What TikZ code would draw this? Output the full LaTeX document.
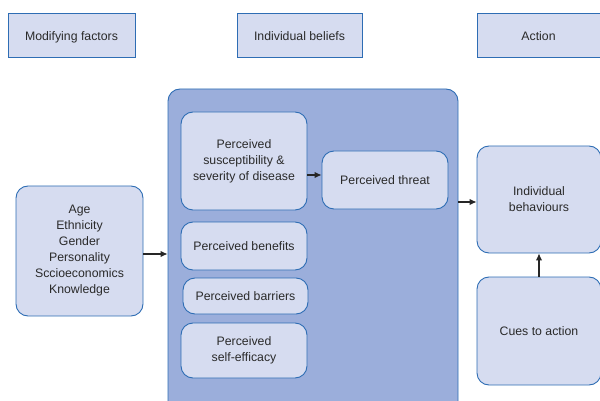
\documentclass[tikz,border=0pt]{standalone}
\usepackage{fontspec}
\setmainfont{Liberation Sans}
\usetikzlibrary{arrows.meta}
\definecolor{lightfill}{HTML}{D6DCF0}
\definecolor{edgeblue}{HTML}{2E6DB4}
\definecolor{contfill}{HTML}{9BAEDB}
\definecolor{txt}{HTML}{2A2A2A}
\tikzset{
  header/.style={draw=edgeblue, fill=lightfill, line width=0.9pt, text=txt, font=\fontsize{12.3}{16}\selectfont, text height=12.4pt, text depth=2pt},
  rbox/.style={draw=edgeblue, fill=lightfill, line width=0.9pt, rounded corners=12pt, text=txt, align=center, font=\fontsize{12.3}{16}\selectfont},
  arr/.style={-{Latex[length=7pt,width=6.5pt]}, line width=1.1pt, draw=black!85}
}
\begin{document}
\begin{tikzpicture}[x=1pt,y=-1pt]
\useasboundingbox (0,0) rectangle (600,401);
% headers
\node[header, minimum width=127pt, minimum height=44pt] (hmod) at (71.5,35.8) {Modifying factors};
\node[header, minimum width=125pt, minimum height=44pt] (hbel) at (299.5,35.8) {Individual beliefs};
\node[header, minimum width=123pt, minimum height=44pt] (hact) at (538.5,35.8) {Action};
% container
\node[draw=edgeblue, fill=contfill, line width=0.9pt, rounded corners=12pt, minimum width=290pt, minimum height=330pt] (cont) at (313,254) {};
% left box
\node[rbox, minimum width=127pt, minimum height=130pt] (mods) at (79.5,251) {Age\\Ethnicity\\Gender\\Personality\\Sccioeconomics\\Knowledge};
% inner boxes
\node[rbox, minimum width=126pt, minimum height=98pt] (sus) at (244,161) {Perceived\\susceptibility \&\\severity of disease};
\node[rbox, minimum width=126pt, minimum height=48pt] (ben) at (244,246) {Perceived benefits};
\node[rbox, minimum width=125pt, minimum height=36pt] (bar) at (245.5,296) {Perceived barriers};
\node[rbox, minimum width=126pt, minimum height=55pt] (eff) at (244,350.5) {Perceived\\self-efficacy};
\node[rbox, minimum width=126pt, minimum height=58pt] (thr) at (385,180) {Perceived threat};
% action side
\node[rbox, minimum width=124pt, minimum height=107pt] (beh) at (539,199.5) {Individual\\behaviours};
\node[rbox, minimum width=124pt, minimum height=108pt] (cue) at (539,331) {Cues to action};
% connectors
\draw[arr] (mods.east |- 0,254) -- (cont.west |- 0,254);
\draw[arr] (sus.east |- 0,175) -- (thr.west |- 0,175);
\draw[arr] (cont.east |- 0,202) -- (beh.west |- 0,202);
\draw[arr] (cue.north) -- (beh.south);
\end{tikzpicture}
\end{document}
